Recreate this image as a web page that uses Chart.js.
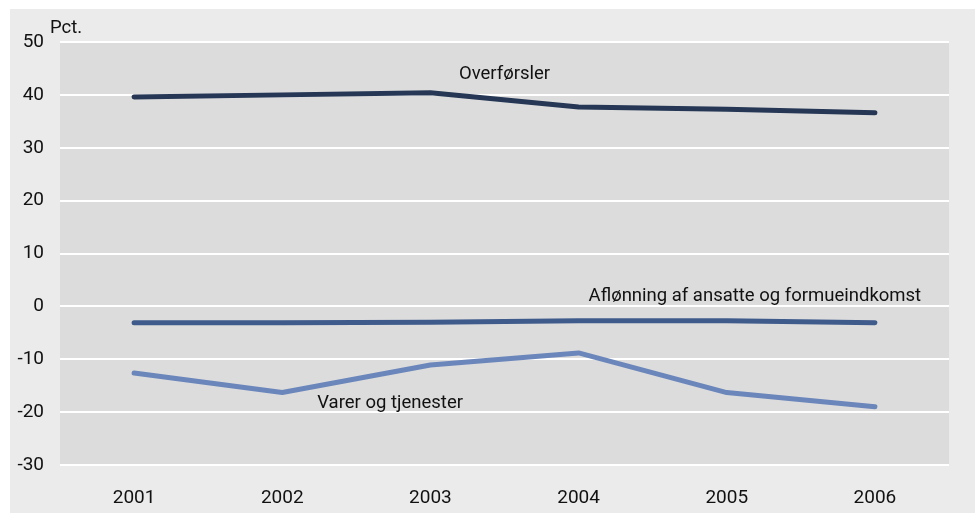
<!DOCTYPE html>
<html><head><meta charset="utf-8">
<script src="https://cdn.jsdelivr.net/npm/chart.js@4.4.1/dist/chart.umd.min.js"></script>
<style>html,body{margin:0;padding:0;background:#fff;}#c{display:block;}</style>
</head><body>
<div style="width:978px;height:513px"><canvas id="c" width="978" height="513"></canvas></div>
<script>
const categories = ['2001','2002','2003','2004','2005','2006'];
const overforsler = [39.6, 40.0, 40.4, 37.7, 37.3, 36.6];
const aflonning = [-3.1, -3.1, -3.0, -2.7, -2.7, -3.1];
const varer = [-12.6, -16.3, -11.1, -8.8, -16.3, -19.0];
const yTicks = [50, 40, 30, 20, 10, 0, -10, -20, -30];
const seriesNames = ['Overførsler', 'Aflønning af ansatte og formueindkomst', 'Varer og tjenester'];

const FONT = "Roboto, 'Open Sans', sans-serif";

const bgPlugin = {
  id: 'bg',
  beforeDraw(chart) {
    const ctx = chart.ctx, a = chart.chartArea;
    ctx.save();
    ctx.fillStyle = '#ffffff';
    ctx.fillRect(0, 0, chart.width, chart.height);
    ctx.fillStyle = '#ebebeb';
    ctx.fillRect(10, 9, 965, 504);
    ctx.fillStyle = '#dcdcdc';
    ctx.fillRect(a.left, a.top, a.right - a.left, a.bottom - a.top);
    ctx.restore();
  },
  afterDraw(chart) {
    const ctx = chart.ctx;
    const x = chart.scales.x, y = chart.scales.y;
    ctx.save();
    ctx.fillStyle = '#111';
    ctx.font = "18.5px " + FONT;
    ctx.textBaseline = 'middle';
    ctx.textAlign = 'left';
    ctx.fillText('Pct.', 50, 28);
    ctx.textAlign = 'center';
    ctx.fillText(seriesNames[0], (x.getPixelForValue(2) + x.getPixelForValue(3)) / 2, y.getPixelForValue(43.9));
    ctx.textAlign = 'left';
    ctx.fillText(seriesNames[1], x.getPixelForValue(3) + 10, y.getPixelForValue(1.9));
    ctx.fillText(seriesNames[2], x.getPixelForValue(1) + 35, y.getPixelForValue(-18.3));
    ctx.restore();
  }
};

new Chart(document.getElementById('c'), {
  type: 'line',
  data: {
    labels: categories,
    datasets: [
      { label: seriesNames[0], data: overforsler, borderColor: '#253755' },
      { label: seriesNames[1], data: aflonning, borderColor: '#3f5b8c' },
      { label: seriesNames[2], data: varer, borderColor: '#6b86bb' }
    ].map(d => Object.assign(d, { borderWidth: 5, pointRadius: 0, borderCapStyle: 'round', borderJoinStyle: 'round', tension: 0, fill: false }))
  },
  options: {
    responsive: false,
    animation: false,
    devicePixelRatio: 1,
    layout: { padding: { left: 0, right: 29, top: 42, bottom: 0 } },
    plugins: { legend: { display: false }, tooltip: { enabled: false } },
    scales: {
      x: {
        offset: true,
        grid: { display: false, drawTicks: false },
        border: { display: false },
        ticks: { color: '#111', font: { family: FONT, size: 19 }, padding: 22 },
        afterFit(s) { s.height = 48; }
      },
      y: {
        min: -30, max: 50,
        afterBuildTicks(s) { s.ticks = yTicks.map(v => ({ value: v })); },
        grid: { color: '#ffffff', lineWidth: 2, drawTicks: false },
        border: { display: false },
        ticks: { color: '#111', font: { family: FONT, size: 19 }, padding: 16 },
        afterFit(s) { s.width = 60; }
      }
    }
  },
  plugins: [bgPlugin]
});
</script>
</body></html>
